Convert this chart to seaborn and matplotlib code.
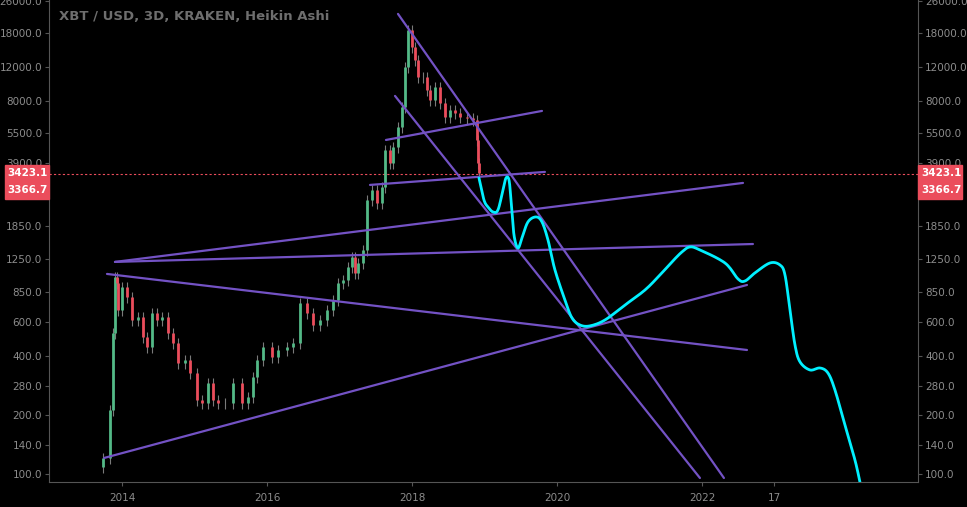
import numpy as np
import pandas as pd
import matplotlib
matplotlib.use("Agg")
import matplotlib.pyplot as plt
import seaborn as sns
from matplotlib.patches import Rectangle

# heikin ashi closes (decimal year, USD)
candle_year = [2013.738, 2013.834, 2013.876, 2013.903, 2013.931, 2013.945, 2014.000, 2014.069,
               2014.138, 2014.221, 2014.290, 2014.345, 2014.414, 2014.483, 2014.552, 2014.634,
               2014.703, 2014.772, 2014.869, 2014.938, 2015.034, 2015.103, 2015.186, 2015.255,
               2015.324, 2015.421, 2015.531, 2015.655, 2015.738, 2015.807, 2015.862, 2015.945,
               2016.069, 2016.152, 2016.276, 2016.359, 2016.455, 2016.552, 2016.634, 2016.731,
               2016.828, 2016.910, 2016.979, 2017.048, 2017.117, 2017.172, 2017.214, 2017.255,
               2017.324, 2017.379, 2017.448, 2017.517, 2017.586, 2017.628, 2017.697, 2017.738,
               2017.807, 2017.862, 2017.903, 2017.945, 2018.000, 2018.041, 2018.083, 2018.152,
               2018.207, 2018.248, 2018.317, 2018.386, 2018.455, 2018.524, 2018.593, 2018.662,
               2018.759, 2018.841, 2018.897, 2018.910, 2018.924]
candle_close = [121, 212, 525, 1016, 946, 689, 903, 803,
                612, 634, 501, 446, 665, 612, 634, 525,
                467, 369, 382, 328, 239, 231, 292, 239,
                231, 231, 292, 231, 247, 313, 382, 446,
                396, 430, 446, 467, 748, 665, 577, 612,
                689, 774, 946, 980, 1142, 1285, 1065, 1197,
                1395, 2512, 2827, 2425, 2928, 4524, 3883, 4688,
                5932, 7504, 12020, 18570, 15200, 13050, 10680, 10680,
                9167, 8148, 9495, 7865, 6672, 7244, 6995, 6672,
                6594, 6441, 5088, 3883, 3451]

# hand drawn projection (cyan)
proj_year = [2018.924, 2018.993, 2019.048, 2019.117, 2019.186, 2019.255, 2019.297, 2019.338,
             2019.366, 2019.407, 2019.462, 2019.517, 2019.600, 2019.710, 2019.793, 2019.876,
             2019.972, 2020.110, 2020.207, 2020.317, 2020.455, 2020.662, 2020.938, 2021.214,
             2021.421, 2021.586, 2021.724, 2021.834, 2021.972, 2022.317, 2022.497, 2022.593,
             2022.731, 2022.938, 2023.076, 2023.145, 2023.214, 2023.283, 2023.352, 2023.490,
             2023.628, 2023.738, 2023.834, 2023.972, 2024.110, 2024.179]
proj_price = [3253, 2512, 2313, 2182, 2234, 2827, 3253, 3179,
              2512, 1665, 1428, 1607, 1940, 2057, 1940, 1569,
              1103, 774, 627, 577, 571, 612, 730, 871,
              1040, 1212, 1363, 1445, 1395, 1197, 992, 968,
              1065, 1197, 1169, 1040, 689, 456, 374, 340,
              348, 328, 269, 178, 118, 91]

# trendlines: (year0, price0, year1, price1)
trend_lines = [
    (2013.752, 120.7, 2022.621, 924),
    (2013.793, 1052, 2022.621, 430),
    (2013.903, 1212, 2022.703, 1496),
    (2013.903, 1212, 2022.566, 3069),
    (2017.421, 2998, 2019.834, 3494),
    (2017.641, 5088, 2019.793, 7159),
    (2017.807, 22415, 2022.303, 95.4),
    (2017.766, 8542, 2021.972, 95.4),
]

y_ticks = [100, 140, 200, 280, 400, 600, 850, 1250, 1850, 3900, 5500, 8000, 12000, 18000, 26000]
x_ticks = [2014, 2016, 2018, 2020, 2022, 2023]
x_labels = ["2014", "2016", "2018", "2020", "2022", "17"]
last_price = 3423.1
prev_price = 3366.7

bg = "#000000"
grey = "#8c8c8c"
sns.set_style("dark", {"axes.facecolor": bg, "figure.facecolor": bg})
plt.rcParams["font.family"] = ["DejaVu Sans"]

fig = plt.figure(figsize=(9.67, 5.07), dpi=100)
ax = fig.add_axes([49 / 967, 25 / 507, 869 / 967, 482 / 507])
ax.set_facecolor(bg)
ax.set_yscale("log")
ax.set_xlim(2012.993, 2024.98)
ax.set_ylim(91.0, 26400)

# candles
df = pd.DataFrame({"year": candle_year, "close": candle_close})
df["open"] = df["close"].shift(1).fillna(df["close"].iloc[0] * 0.9)
up = df["close"] >= df["open"]
ax.vlines(df["year"], np.minimum(df["open"], df["close"]) * 0.93,
          np.maximum(df["open"], df["close"]) * 1.06, color="#7a7a7a", lw=0.8, zorder=2)
ax.vlines(df["year"][up], df["open"][up], df["close"][up], color="#53b987", lw=2.0, zorder=3)
ax.vlines(df["year"][~up], df["open"][~up], df["close"][~up], color="#eb4d5c", lw=2.0, zorder=3)

for x0, p0, x1, p1 in trend_lines:
    sns.lineplot(x=[x0, x1], y=[p0, p1], ax=ax, color="#7352c4", lw=1.6, zorder=4)

# smooth the projection drawing (catmull-rom in log space)
px = np.array(proj_year)
py = np.log10(proj_price)
P = np.column_stack([px, py])
P = np.vstack([P[0], P, P[-1]])
sx, sy = [], []
for i in range(1, len(P) - 2):
    p0, p1, p2, p3 = P[i - 1], P[i], P[i + 1], P[i + 2]
    for t in np.linspace(0, 1, 12, endpoint=False):
        c = 0.5 * ((2 * p1) + (-p0 + p2) * t + (2 * p0 - 5 * p1 + 4 * p2 - p3) * t ** 2
                   + (-p0 + 3 * p1 - 3 * p2 + p3) * t ** 3)
        sx.append(c[0]); sy.append(c[1])
sx.append(px[-1]); sy.append(py[-1])
smooth = pd.DataFrame({"year": sx, "price": 10 ** np.array(sy)})
sns.lineplot(data=smooth, x="year", y="price", ax=ax, color="#00f0ff", lw=2.0, sort=False, zorder=5)

ax.axhline(last_price, color="#eb4d5c", lw=0.8, ls=(0, (2, 2)), zorder=1)

ax.set_yticks(y_ticks)
ax.set_yticklabels([f"{v:.1f}" for v in y_ticks])
ax.minorticks_off()
ax.set_xticks(x_ticks)
ax.set_xticklabels(x_labels)
ax.tick_params(colors=grey, labelsize=7.5, length=3, width=0.8, color="#555555", pad=2,
               left=True, right=True, bottom=True, labelright=True, labelleft=True)
ax.tick_params(axis="x", pad=5)
ax.set_xlabel("")
ax.set_ylabel("")
ax.grid(False)
ax.spines["top"].set_visible(False)
for s in ["left", "right", "bottom"]:
    ax.spines[s].set_visible(True)
    ax.spines[s].set_color("#555555")
    ax.spines[s].set_linewidth(0.8)

ax.text(0.012, 0.965, "XBT / USD, 3D, KRAKEN, Heikin Ashi", transform=ax.transAxes,
        color="#6e6e6e", fontsize=9.5, fontweight="bold", va="center")

# price tags on both sides (fixed rows like the platform does)
for x0 in [5, 918]:
    fig.patches.append(Rectangle((x0 / 967, (507 - 199) / 507), 44 / 967, 34 / 507,
                                 transform=fig.transFigure, color="#eb4d5c", zorder=10))
    for ypix, v in [(173, last_price), (190, prev_price)]:
        fig.text((x0 + 23) / 967, (507 - ypix) / 507, f"{v:.1f}", color="white", fontsize=7.5,
                 fontweight="bold", ha="center", va="center", zorder=11)

fig.savefig("out.png", dpi=100, facecolor=bg)
